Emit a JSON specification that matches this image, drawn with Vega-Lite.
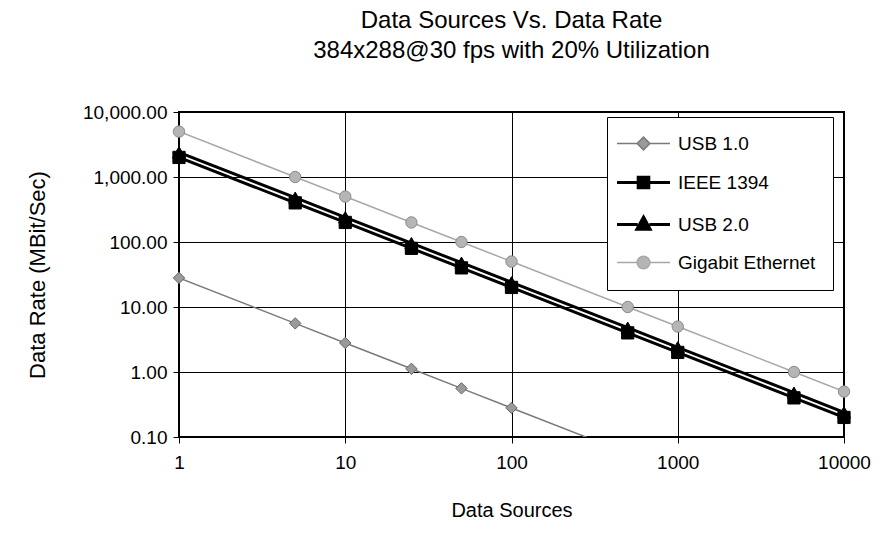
{
  "$schema": "https://vega.github.io/schema/vega-lite/v6.json",
  "autosize": {"type": "none"},
  "padding": {"left": 179, "top": 112, "right": 34, "bottom": 109},
  "width": 665,
  "height": 325,
  "background": "white",
  "title": {
    "text": ["Data Sources Vs. Data Rate", "384x288@30 fps with 20% Utilization"],
    "font": "Liberation Sans",
    "fontSize": 24,
    "fontWeight": "normal",
    "color": "black",
    "lineHeight": 30,
    "anchor": "middle",
    "offset": 40
  },
  "config": {
    "view": {"stroke": "black", "strokeWidth": 2},
    "axis": {
      "domain": false,
      "gridColor": "black",
      "gridWidth": 1,
      "gridOpacity": 1,
      "tickColor": "black",
      "tickSize": 6,
      "labelFont": "Liberation Sans",
      "labelFontSize": 19,
      "labelColor": "black",
      "titleColor": "black",
      "titleFontWeight": "normal"
    }
  },
  "data": {
    "values": [
      {"sources": 1, "series": "USB 1.0", "rate": 28},
      {"sources": 5, "series": "USB 1.0", "rate": 5.6},
      {"sources": 10, "series": "USB 1.0", "rate": 2.8},
      {"sources": 25, "series": "USB 1.0", "rate": 1.12},
      {"sources": 50, "series": "USB 1.0", "rate": 0.56},
      {"sources": 100, "series": "USB 1.0", "rate": 0.28},
      {"sources": 500, "series": "USB 1.0", "rate": 0.056},
      {"sources": 1000, "series": "USB 1.0", "rate": 0.028},
      {"sources": 1, "series": "IEEE 1394", "rate": 2000},
      {"sources": 5, "series": "IEEE 1394", "rate": 400},
      {"sources": 10, "series": "IEEE 1394", "rate": 200},
      {"sources": 25, "series": "IEEE 1394", "rate": 80},
      {"sources": 50, "series": "IEEE 1394", "rate": 40},
      {"sources": 100, "series": "IEEE 1394", "rate": 20},
      {"sources": 500, "series": "IEEE 1394", "rate": 4},
      {"sources": 1000, "series": "IEEE 1394", "rate": 2},
      {"sources": 5000, "series": "IEEE 1394", "rate": 0.4},
      {"sources": 10000, "series": "IEEE 1394", "rate": 0.2},
      {"sources": 1, "series": "USB 2.0", "rate": 2400},
      {"sources": 5, "series": "USB 2.0", "rate": 480},
      {"sources": 10, "series": "USB 2.0", "rate": 240},
      {"sources": 25, "series": "USB 2.0", "rate": 96},
      {"sources": 50, "series": "USB 2.0", "rate": 48},
      {"sources": 100, "series": "USB 2.0", "rate": 24},
      {"sources": 500, "series": "USB 2.0", "rate": 4.8},
      {"sources": 1000, "series": "USB 2.0", "rate": 2.4},
      {"sources": 5000, "series": "USB 2.0", "rate": 0.48},
      {"sources": 10000, "series": "USB 2.0", "rate": 0.24},
      {"sources": 1, "series": "Gigabit Ethernet", "rate": 5000},
      {"sources": 5, "series": "Gigabit Ethernet", "rate": 1000},
      {"sources": 10, "series": "Gigabit Ethernet", "rate": 500},
      {"sources": 25, "series": "Gigabit Ethernet", "rate": 200},
      {"sources": 50, "series": "Gigabit Ethernet", "rate": 100},
      {"sources": 100, "series": "Gigabit Ethernet", "rate": 50},
      {"sources": 500, "series": "Gigabit Ethernet", "rate": 10},
      {"sources": 1000, "series": "Gigabit Ethernet", "rate": 5},
      {"sources": 5000, "series": "Gigabit Ethernet", "rate": 1},
      {"sources": 10000, "series": "Gigabit Ethernet", "rate": 0.5}
    ]
  },
  "encoding": {
    "x": {
      "field": "sources",
      "type": "quantitative",
      "scale": {"type": "log", "domain": [1, 10000], "nice": false},
      "axis": {
        "values": [1, 10, 100, 1000, 10000],
        "format": "d",
        "labelPadding": 10,
        "title": "Data Sources",
        "titleFont": "Liberation Sans",
        "titleFontSize": 20,
        "titlePadding": 28,
        "labelFlush": false
      }
    },
    "y": {
      "field": "rate",
      "type": "quantitative",
      "scale": {"type": "log", "domain": [0.1, 10000], "nice": false},
      "axis": {
        "values": [0.1, 1, 10, 100, 1000, 10000],
        "format": ",.2f",
        "labelPadding": 6,
        "title": "Data Rate (MBit/Sec)",
        "titleFont": "Liberation Sans",
        "titleFontSize": 22,
        "titlePadding": 33,
        "labelFlush": false
      }
    }
  },
  "layer": [
    {
      "mark": {"type": "line", "clip": true},
      "encoding": {
        "color": {
          "field": "series",
          "type": "nominal",
          "scale": {
            "domain": ["USB 1.0", "IEEE 1394", "USB 2.0", "Gigabit Ethernet"],
            "range": ["#7a7a7a", "#000000", "#000000", "#a8a8a8"]
          },
          "legend": {
            "title": null,
            "orient": "none",
            "legendX": 428,
            "legendY": 5,
            "fillColor": "white",
            "strokeColor": "black",
            "padding": 17,
            "labelFont": "Liberation Sans",
            "labelFontSize": 19,
            "labelColor": "black",
            "symbolSize": 2809,
            "symbolOffset": 10,
            "rowPadding": 17,
            "labelOffset": 25,
            "encode": {
              "symbols": {
                "update": {
                  "shape": {"signal": "datum.value == 'USB 1.0' ? 'M-1,0H-0.24M0.24,0H1M0,-0.24L0.24,0L0,0.24L-0.24,0Z' : datum.value == 'IEEE 1394' ? 'M-1,0H-0.2M0.2,0H1M-0.2,-0.2H0.2V0.2H-0.2Z' : datum.value == 'USB 2.0' ? 'M-1,0H-0.22M0.22,0H1M0,-0.28L0.25,0.18H-0.25Z' : 'M-1,0H-0.24M0.24,0H1M-0.24,0A0.24,0.24 0 1,0 0.24,0A0.24,0.24 0 1,0 -0.24,0Z'"},
                  "size": {"value": 2809},
                  "fill": {"signal": "datum.value == 'USB 1.0' ? '#9a9a9a' : datum.value == 'Gigabit Ethernet' ? '#b5b5b5' : '#000000'"},
                  "stroke": {"signal": "datum.value == 'USB 1.0' ? '#6a6a6a' : datum.value == 'Gigabit Ethernet' ? '#999999' : '#000000'"},
                  "strokeWidth": {"signal": "datum.value == 'IEEE 1394' || datum.value == 'USB 2.0' ? 3 : 1.5"},
                  "opacity": {"value": 1},
                  "fillOpacity": {"value": 1}
                }
              }
            }
          }
        },
        "strokeWidth": {
          "condition": [
            {"test": "datum.series == 'IEEE 1394' || datum.series == 'USB 2.0'", "value": 3}
          ],
          "value": 1.5
        }
      }
    },
    {
      "transform": [{"filter": "datum.rate >= 0.1"}],
      "mark": {"type": "point", "filled": true, "opacity": 1, "strokeWidth": 1},
      "encoding": {
        "shape": {
          "condition": [
            {"test": "datum.series == 'USB 1.0'", "value": "diamond"},
            {"test": "datum.series == 'IEEE 1394'", "value": "square"},
            {"test": "datum.series == 'USB 2.0'", "value": "triangle-up"}
          ],
          "value": "circle"
        },
        "fill": {
          "condition": [
            {"test": "datum.series == 'USB 1.0'", "value": "#9a9a9a"},
            {"test": "datum.series == 'Gigabit Ethernet'", "value": "#b5b5b5"}
          ],
          "value": "#000000"
        },
        "stroke": {
          "condition": [
            {"test": "datum.series == 'USB 1.0'", "value": "#666666"},
            {"test": "datum.series == 'Gigabit Ethernet'", "value": "#8a8a8a"}
          ],
          "value": "#000000"
        },
        "size": {
          "condition": [
            {"test": "datum.series == 'USB 2.0'", "value": 170},
            {"test": "datum.series == 'IEEE 1394'", "value": 150}
          ],
          "value": 130
        }
      }
    }
  ]
}
